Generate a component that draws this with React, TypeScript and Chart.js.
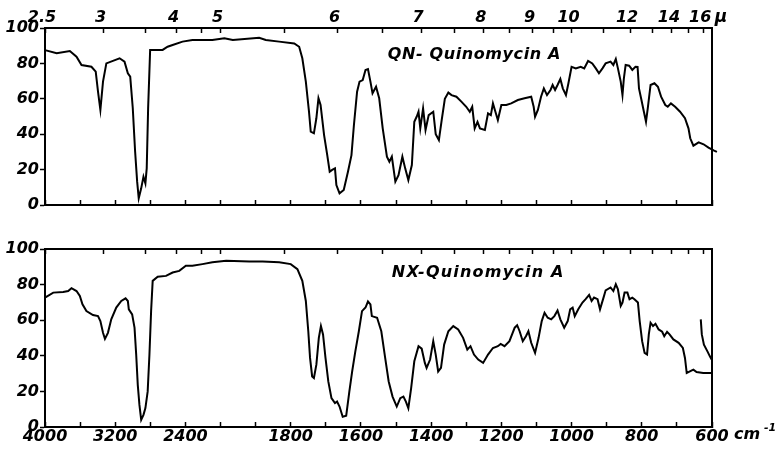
import React, { useEffect, useRef } from 'react';
import { Chart, registerables, LinearScale } from 'chart.js';

// ---------- Data (wavenumber in cm^-1, transmittance in %) ----------
const qnWavenumber = [
  4000, 3867, 3717, 3641, 3584, 3471, 3422, 3396, 3369, 3339, 3301, 3226, 3150, 3094, 3056, 3029,
  3000, 2973, 2950, 2932, 2904, 2878, 2856, 2841, 2825, 2802, 2660, 2603, 2546, 2433, 2320, 2093,
  1989, 1965, 1890, 1871, 1833, 1790, 1776, 1767, 1757, 1748, 1743, 1734, 1727, 1721, 1715, 1705,
  1696, 1689, 1682, 1674, 1670, 1661, 1649, 1637, 1627, 1620, 1611, 1604, 1595, 1587, 1580, 1573,
  1567, 1557, 1548, 1538, 1526, 1519, 1512, 1502, 1493, 1482, 1474, 1465, 1455, 1448, 1441, 1436,
  1431, 1423, 1416, 1407, 1394, 1387, 1378, 1370, 1361, 1351, 1342, 1328, 1314, 1300, 1290, 1283,
  1276, 1268, 1261, 1247, 1238, 1230, 1224, 1217, 1210, 1200, 1186, 1172, 1153, 1134, 1115, 1108,
  1104, 1096, 1087, 1079, 1070, 1060, 1054, 1047, 1040, 1032, 1025, 1016, 1009, 1000, 988, 974,
  964, 953, 941, 931, 922, 912, 903, 889, 881, 874, 868, 860, 855, 851, 846, 836,
  827, 818, 812, 808, 802, 794, 788, 783, 775, 764, 754, 745, 733, 726, 717, 705,
  691, 677, 667, 662, 653, 638, 624, 610, 594, 586,
];
const qnTransmittance = [
  87.5, 85.7, 87, 83.8, 79.1, 78.1, 75.3, 64, 53.7, 69.7, 80, 81.4, 82.9, 81, 74.4, 72.5,
  54.8, 30.1, 13.2, 3.8, 9.4, 16, 12.2, 20.7, 54.6, 87.6, 87.6, 89.4, 90.4, 92.3, 93.2, 93.2,
  94.2, 93.2, 94.5, 93.2, 92.3, 91.3, 89.4, 82.9, 69.7, 52.7, 41.4, 40.5, 49, 60.3, 56.5, 39.5,
  28.2, 18.8, 19.8, 20.7, 11.3, 6.6, 8.5, 18.8, 28.2, 45.2, 64, 69.7, 70.6, 76.3, 76.8, 69.7,
  63.1, 66.8, 60.3, 43.3, 27.3, 24.5, 27.3, 13.2, 16.9, 27.3, 20.7, 14.1, 22.6, 47, 50, 52.7,
  43.3, 54.6, 42.4, 50.8, 52.7, 40, 36.7, 48, 60, 63.5, 62.1, 61.2, 58.4, 55.5, 52.7, 55.5,
  43.3, 47, 43.3, 42.4, 51.8, 50.8, 57.4, 52.7, 48, 56.5, 56.5, 57.4, 59.3, 60.3, 61.2, 55.5,
  49.9, 53.7, 61.2, 65.9, 62.1, 65, 67.8, 65, 67.8, 71.2, 65.9, 62.1, 68.8, 78.1, 77.2, 78.1,
  77.2, 81.4, 80, 77.2, 74.4, 77.2, 80, 81, 79.1, 82.5, 77.2, 69.7, 62.1, 71.6, 79.1, 78.7,
  76.3, 78.1, 78, 65.9, 60.3, 52.7, 47, 54.6, 67.8, 68.8, 66.8, 61.2, 56.5, 55.5, 57.4, 55.5,
  52.7, 49, 43.3, 37.7, 33.5, 35.4, 34.3, 32.4, 30.7, 30,
];

const nxWavenumber = [
  4000, 3906, 3793, 3736, 3698, 3641, 3603, 3573, 3528, 3453, 3396, 3369, 3339, 3317, 3283, 3245,
  3188, 3131, 3082, 3056, 3045, 3007, 2980, 2961, 2943, 2924, 2904, 2878, 2856, 2830, 2810, 2791,
  2773, 2716, 2621, 2546, 2470, 2395, 2320, 2206, 2093, 1984, 1918, 1880, 1833, 1800, 1781, 1767,
  1757, 1750, 1745, 1739, 1734, 1727, 1720, 1714, 1708, 1701, 1693, 1684, 1674, 1668, 1661, 1652,
  1642, 1633, 1625, 1616, 1606, 1597, 1587, 1580, 1573, 1569, 1554, 1542, 1531, 1521, 1510, 1498,
  1488, 1479, 1472, 1465, 1457, 1448, 1436, 1427, 1418, 1413, 1403, 1394, 1387, 1380, 1372, 1363,
  1351, 1337, 1323, 1309, 1297, 1288, 1278, 1266, 1252, 1238, 1224, 1210, 1202, 1191, 1177, 1162,
  1155, 1148, 1139, 1130, 1123, 1115, 1104, 1094, 1085, 1077, 1068, 1058, 1049, 1040, 1032, 1021,
  1011, 1004, 997, 991, 981, 969, 960, 950, 943, 936, 926, 919, 909, 903, 889, 881,
  874, 868, 860, 855, 849, 841, 835, 827, 821, 811, 806, 799, 792, 785, 780, 775,
  768, 761, 752, 742, 736, 728, 721, 710, 695, 683, 677, 672, 663, 653, 644, 625,
  608, 600,
];
const nxTransmittance = [
  72.7, 75.5, 75.9, 76.4, 78, 76.4, 73.6, 68.9, 65.1, 62.9, 62.3, 59.5, 52.9, 49.5, 52.9, 60.5,
  67.1, 70.8, 72.3, 70.8, 66.1, 63.3, 55.8, 40.7, 23.7, 12.4, 4, 6.8, 10.6, 20, 40.7, 65.1,
  82.1, 84.4, 84.9, 86.8, 87.7, 90.6, 90.6, 91.5, 92.5, 93.4, 93, 93, 92.5, 91.5, 88.7, 82.1,
  70.8, 53.8, 38.8, 28.4, 27.5, 35, 50.1, 56.7, 52, 38.8, 25.6, 16.2, 13.4, 14.3, 11.5, 5.8,
  6.4, 20, 31.2, 42.5, 53.8, 65.1, 67.1, 70.5, 68.9, 62.3, 61.4, 53.8, 38.8, 25.6, 17.1, 11.5,
  16.2, 17.1, 14.3, 10.6, 21.9, 36.9, 45.4, 44, 36, 33.2, 37.9, 48.2, 40.7, 31.2, 33.2, 46.3,
  53.8, 56.7, 54.8, 50.1, 43.5, 45.4, 40.7, 37.9, 36, 40.7, 44.4, 45.4, 46.7, 45.4, 48.2, 55.8,
  57.2, 53.8, 48.2, 51, 53.8, 47.3, 41.6, 50.1, 59.5, 64.2, 61.4, 60.5, 62.3, 65.5, 60.5, 55.8,
  59.5, 66.1, 67.1, 62.3, 66.1, 69.9, 71.8, 74.2, 70.8, 72.7, 71.8, 66.1, 72.7, 76.8, 78.4, 76.4,
  80.2, 77.4, 68, 69.9, 75.5, 75.5, 71.8, 72.7, 71.8, 69.9, 59.5, 48.2, 41.6, 40.7, 52, 58.6,
  56.7, 58, 54.8, 53.5, 51, 53.5, 52, 49.2, 47.3, 44.4, 38.8, 30.3, 31.2, 32.2, 30.9, 30.3,
  30.3, 30.3,
];
const nxTailWavenumber = [632, 629, 623, 613, 606, 601];
const nxTailTransmittance = [60.5, 52, 46.3, 42.5, 39.7, 37.9];

// Axis ticks
const wavenumberTicks = [4000, 3600, 3200, 2800, 2400, 2000, 1900, 1800, 1700, 1600, 1500, 1400, 1300, 1200, 1100, 1000, 900, 800, 700, 600];
const wavenumberLabels = [4000, 3200, 2400, 1800, 1600, 1400, 1200, 1000, 800, 600];
const micronTicks = [2.5, 3, 3.5, 4, 4.5, 5, 5.5, 6, 6.5, 7, 7.5, 8, 8.5, 9, 9.5, 10, 11, 12, 13, 14, 15, 16];
const micronLabels = [2.5, 3, 4, 5, 6, 7, 8, 9, 10, 12, 14, 16];
const transmittanceTicks = [0, 20, 40, 60, 80, 100];

// ---------- Piecewise IR abscissa (400 cm-1 per division above 2000, 100 below) ----------
const TOTAL_UNITS = 19;
function waveToUnit(w: number) {
  return w >= 2000 ? (4000 - w) / 400 : 5 + (2000 - w) / 100;
}
function unitToWave(u: number) {
  return u <= 5 ? 4000 - u * 400 : 2000 - (u - 5) * 100;
}

class InfraredScale extends LinearScale {
  static id = 'infrared';
  static defaults = LinearScale.defaults;
  getPixelForValue(value: any) {
    if (value === null || value === undefined || Number.isNaN(+value)) return NaN;
    return this.getPixelForDecimal(waveToUnit(+value) / TOTAL_UNITS);
  }
  getValueForPixel(pixel: number) {
    return unitToWave(this.getDecimalForPixel(pixel) * TOTAL_UNITS);
  }
}

Chart.register(...registerables, InfraredScale);

const FAMILY = '"DejaVu Sans", sans-serif';
const tickFont = { family: FAMILY, size: 16, style: 'italic' as const, weight: 'bold' as const };

const textPlugin = {
  id: 'irText',
  afterDraw(chart: any, _args: any, opts: any) {
    const { ctx, chartArea } = chart;
    ctx.save();
    ctx.fillStyle = '#000';
    ctx.textBaseline = 'middle';
    ctx.textAlign = 'left';
    ctx.font = `italic bold 16px ${FAMILY}`;
    try { (ctx as any).letterSpacing = opts.spacing; } catch (e) { /* ignore */ }
    ctx.fillText(
      opts.title,
      chartArea.left + opts.titleX * chartArea.width,
      chartArea.top + opts.titleY * chartArea.height,
    );
    try { (ctx as any).letterSpacing = '0px'; } catch (e) { /* ignore */ }
    if (opts.unit === 'micron') {
      ctx.font = `italic bold 17px ${FAMILY}`;
      ctx.textAlign = 'center';
      ctx.fillText('\u00b5', chartArea.right + 9, 18);
    } else if (opts.unit === 'cm') {
      ctx.font = `italic bold 16px ${FAMILY}`;
      ctx.textAlign = 'left';
      const y = chartArea.bottom + 8;
      ctx.fillText('cm', chartArea.right + 22, y);
      ctx.font = `italic bold 11px ${FAMILY}`;
      ctx.fillText('-1', chartArea.right + 52, y - 7);
    }
    ctx.restore();
  },
};

function makeConfig(panel: 'top' | 'bottom', canvasHeight: number) {
  const isTop = panel === 'top';
  const line = { borderColor: '#000', borderWidth: 2, pointRadius: 0, tension: 0, fill: false, clip: false };
  const datasets: any[] = [];
  if (isTop) {
    datasets.push({ ...line, data: qnWavenumber.map((w, i) => ({ x: w, y: qnTransmittance[i] })) });
  } else {
    datasets.push({ ...line, data: nxWavenumber.map((w, i) => ({ x: w, y: nxTransmittance[i] })) });
    datasets.push({ ...line, data: nxTailWavenumber.map((w, i) => ({ x: w, y: nxTailTransmittance[i] })) });
  }
  const topAxisHeight = isTop ? 28 : 29;
  const bottomAxisHeight = isTop ? canvasHeight - 205 : canvasHeight - 207;
  const frame = { display: true, color: '#000', width: 2 };
  return {
    type: 'line',
    data: { datasets },
    plugins: [textPlugin],
    options: {
      responsive: false,
      animation: false,
      events: [],
      layout: { padding: { left: 0, right: 66, top: 0, bottom: 0 } },
      plugins: {
        legend: { display: false },
        tooltip: { enabled: false },
        irText: isTop
          ? { title: 'QN- Quinomycin A', titleX: 0.514, titleY: 0.153, unit: 'micron', spacing: '0.6px' }
          : { title: 'NX-Quinomycin A', titleX: 0.52, titleY: 0.135, unit: 'cm', spacing: '1.2px' },
      },
      scales: {
        x: {
          type: 'infrared',
          position: 'bottom',
          min: 600,
          max: 4000,
          afterBuildTicks: (s: any) => { s.ticks = wavenumberTicks.map((v) => ({ value: v })); },
          afterFit: (s: any) => { s.height = bottomAxisHeight; },
          ticks: {
            display: !isTop,
            autoSkip: false,
            maxRotation: 0,
            minRotation: 0,
            color: '#000',
            font: tickFont,
            padding: 5,
            labelOffset: 0,
            callback: (v: any) => (wavenumberLabels.includes(Number(v)) ? String(v) : ''),
          },
          grid: { drawOnChartArea: false, drawTicks: true, tickLength: -5, tickWidth: 1.5, color: '#000' },
          border: frame,
        },
        xt: {
          type: 'infrared',
          position: 'top',
          min: 600,
          max: 4000,
          afterBuildTicks: (s: any) => { s.ticks = micronTicks.map((m) => ({ value: 10000 / m })); },
          afterFit: (s: any) => { s.height = topAxisHeight; },
          ticks: {
            display: isTop,
            autoSkip: false,
            maxRotation: 0,
            minRotation: 0,
            color: '#000',
            font: tickFont,
            padding: 6,
            labelOffset: -3,
            callback: (v: any) => {
              const m = Math.round((10000 / Number(v)) * 10) / 10;
              return micronLabels.includes(m) ? String(m) : '';
            },
          },
          grid: { drawOnChartArea: false, drawTicks: true, tickLength: -5, tickWidth: 1.5, color: '#000' },
          border: frame,
        },
        y: {
          position: 'left',
          min: 0,
          max: 100,
          afterBuildTicks: (s: any) => { s.ticks = transmittanceTicks.map((v) => ({ value: v })); },
          afterFit: (s: any) => { s.width = 45; },
          ticks: { color: '#000', font: tickFont, padding: 1 },
          grid: { drawOnChartArea: false, drawTicks: true, tickLength: 5, tickWidth: 1.5, color: '#000' },
          border: frame,
        },
        yr: {
          position: 'right',
          min: 0,
          max: 100,
          afterFit: (s: any) => { s.width = 0; },
          ticks: { display: false },
          grid: { display: false },
          border: frame,
        },
      },
    },
  } as any;
}

export default function App() {
  const topRef = useRef<HTMLCanvasElement | null>(null);
  const bottomRef = useRef<HTMLCanvasElement | null>(null);

  useEffect(() => {
    if (!topRef.current || !bottomRef.current) return;
    const topChart = new Chart(topRef.current, makeConfig('top', 220));
    const bottomChart = new Chart(bottomRef.current, makeConfig('bottom', 236));
    return () => {
      topChart.destroy();
      bottomChart.destroy();
    };
  }, []);

  return (
    <div style={{ position: 'absolute', left: 0, top: 0, width: 778, height: 456, background: '#fff' }}>
      <canvas ref={topRef} width={778} height={220} style={{ position: 'absolute', left: 0, top: 0 }} />
      <canvas ref={bottomRef} width={778} height={236} style={{ position: 'absolute', left: 0, top: 220 }} />
    </div>
  );
}
